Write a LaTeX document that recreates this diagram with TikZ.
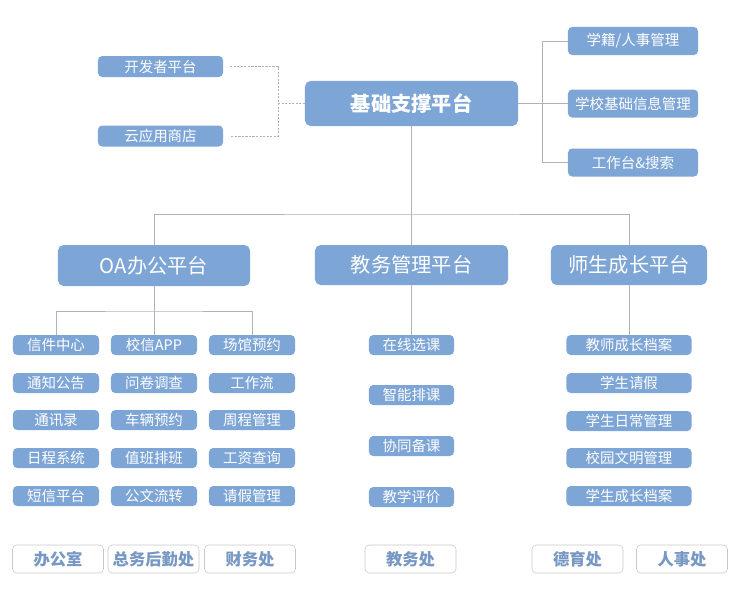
\documentclass[tikz,border=0pt]{standalone}
\usepackage{fontspec}
\newfontfamily\cjk{Noto Sans CJK SC}
\definecolor{boxblue}{RGB}{125,165,214}
\definecolor{linegray}{RGB}{178,178,178}
\definecolor{deptext}{RGB}{120,152,196}
\definecolor{depline}{RGB}{200,200,200}
\begin{document}
\begin{tikzpicture}[x=0.025cm,y=-0.025cm,
	bluebox/.style={fill=boxblue,text=white,inner sep=0pt,rounded corners=3pt},
	bigbox/.style={bluebox,rounded corners=4pt,font=\cjk\fontsize{14.4}{16}\selectfont},
	smallbox/.style={bluebox,minimum height=0.5cm,font=\cjk\fontsize{10.3}{12}\selectfont},
	midbox/.style={bluebox,minimum width=3.25cm,minimum height=0.7cm,font=\cjk\fontsize{10.3}{12}\selectfont},
	depbox/.style={draw=depline,fill=white,text=deptext,inner sep=0pt,rounded corners=3pt,
		minimum width=2.275cm,minimum height=0.7cm,font=\cjk\bfseries\fontsize{11.6}{13}\selectfont},
	link/.style={draw=linegray,line width=0.6pt},
	dashlink/.style={draw=linegray,line width=0.6pt,dash pattern=on 1.5pt off 1pt}]
	\useasboundingbox (0,0) rectangle (740,613);
	% top level
	\node[bigbox,minimum width=5.325cm,minimum height=1.125cm,font=\cjk\bfseries\fontsize{14.4}{16}\selectfont] (base) at (411.5,103.5) {基础支撑平台};
	\node[smallbox,minimum width=3.125cm,minimum height=0.525cm] (dev) at (160.5,66.5) {开发者平台};
	\node[smallbox,minimum width=3.125cm,minimum height=0.525cm] (store) at (160.5,136) {云应用商店};
	\node[midbox] (r1) at (633,41) {学籍/人事管理};
	\node[midbox] (r2) at (633,103.5) {学校基础信息管理};
	\node[midbox] (r3) at (633,162.5) {工作台\&搜索};
	\coordinate (lj) at (278,103.5);
	\coordinate (rj) at (542,103.5);
	\draw[dashlink] ([xshift=7*0.025cm]dev.east) -| (lj) |- ([xshift=7*0.025cm]store.east);
	\draw[dashlink] (lj) -- (base.west);
	\draw[link] (base.east) -- (rj);
	\draw[link] (r1.west) -| (rj) |- (r3.west);
	\draw[link] (rj) -- (r2.west);
	% platforms
	\node[bigbox,minimum width=4.8cm,minimum height=1.025cm] (oa) at (154,265.5) {OA办公平台};
	\node[bigbox,minimum width=4.825cm,minimum height=1cm] (edu) at (411.5,265) {教务管理平台};
	\node[bigbox,minimum width=3.9cm,minimum height=1cm] (grow) at (629,265) {师生成长平台};
	\coordinate (bus) at (411.5,214);
	\draw[link] (base.south) -- (bus);
	\draw[link] (oa.north) |- (bus) -| (grow.north);
	\draw[link] (bus) -- (edu.north);
	% OA
	\node[smallbox,minimum width=2.15cm] (oa11) at (56,345) {信件中心};
	\node[smallbox,minimum width=2.15cm] (oa12) at (154,345) {校信APP};
	\node[smallbox,minimum width=2.15cm] (oa13) at (252,345) {场馆预约};
	\node[smallbox,minimum width=2.15cm] (oa21) at (56,383) {通知公告};
	\node[smallbox,minimum width=2.15cm] (oa22) at (154,383) {问卷调查};
	\node[smallbox,minimum width=2.15cm] (oa23) at (252,383) {工作流};
	\node[smallbox,minimum width=2.15cm] (oa31) at (56,420) {通讯录};
	\node[smallbox,minimum width=2.15cm] (oa32) at (154,420) {车辆预约};
	\node[smallbox,minimum width=2.15cm] (oa33) at (252,420) {周程管理};
	\node[smallbox,minimum width=2.15cm] (oa41) at (56,458) {日程系统};
	\node[smallbox,minimum width=2.15cm] (oa42) at (154,458) {值班排班};
	\node[smallbox,minimum width=2.15cm] (oa43) at (252,458) {工资查询};
	\node[smallbox,minimum width=2.15cm] (oa51) at (56,496) {短信平台};
	\node[smallbox,minimum width=2.15cm] (oa52) at (154,496) {公文流转};
	\node[smallbox,minimum width=2.15cm] (oa53) at (252,496) {请假管理};
	\coordinate (oabus) at (154,311);
	\draw[link] (oa.south) -- (oa12.north);
	\draw[link] (oa11.north) |- (oabus) -| (oa13.north);
	% edu
	\node[smallbox,minimum width=2.125cm] (e1) at (411.5,345) {在线选课};
	\node[smallbox,minimum width=2.125cm] (e2) at (411.5,395) {智能排课};
	\node[smallbox,minimum width=2.125cm] (e3) at (411.5,446) {协同备课};
	\node[smallbox,minimum width=2.125cm] (e4) at (411.5,497) {教学评价};
	\draw[link] (edu.south) -- (e1.north);
	% grow
	\node[smallbox,minimum width=3.125cm] (g1) at (629,345) {教师成长档案};
	\node[smallbox,minimum width=3.125cm] (g2) at (629,383) {学生请假};
	\node[smallbox,minimum width=3.125cm] (g3) at (629,421) {学生日常管理};
	\node[smallbox,minimum width=3.125cm] (g4) at (629,458) {校园文明管理};
	\node[smallbox,minimum width=3.125cm] (g5) at (629,496) {学生成长档案};
	\draw[link] (grow.south) -- (g1.north);
	% departments
	\node[depbox] (d1) at (58,559) {办公室};
	\node[depbox] (d2) at (153.5,559) {总务后勤处};
	\node[depbox] (d3) at (250,559) {财务处};
	\node[depbox] (d4) at (410.5,559) {教务处};
	\node[depbox] (d5) at (577.5,559) {德育处};
	\node[depbox] (d6) at (682,559) {人事处};
\end{tikzpicture}
\end{document}
